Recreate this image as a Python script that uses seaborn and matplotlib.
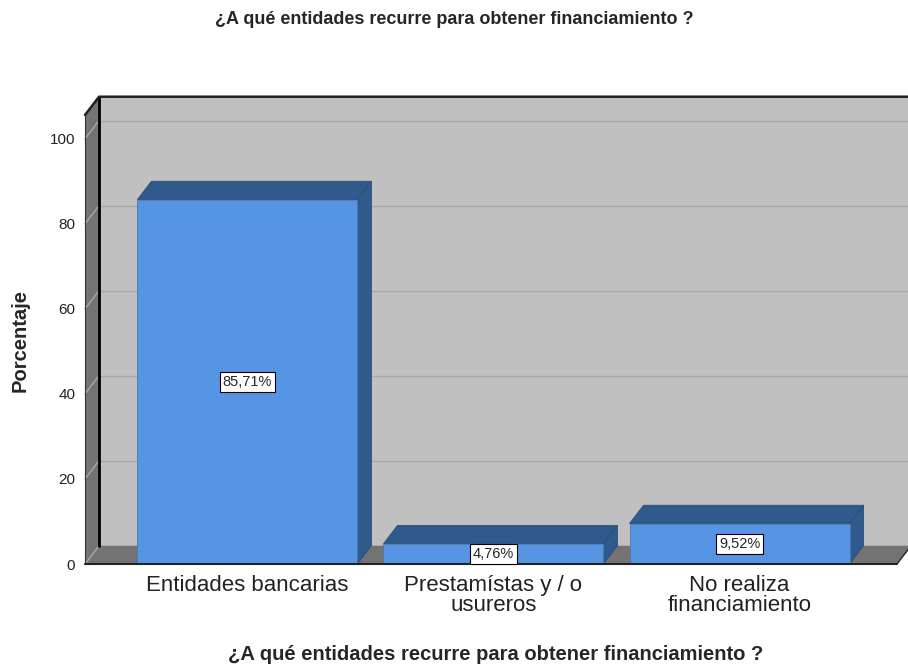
import seaborn as sns
import matplotlib.pyplot as plt
from matplotlib.patches import Polygon
import pandas as pd

categories = ['Entidades bancarias', 'Prestamístas y / o\nusureros', 'No realiza\nfinanciamiento']
values = [85.71, 4.76, 9.52]
labels = ['85,71%', '4,76%', '9,52%']
yticks = [0, 20, 40, 60, 80, 100]
title = '¿A qué entidades recurre para obtener financiamiento ?'

sns.set_style('white')
plt.rcParams['font.family'] = ['Liberation Sans', 'DejaVu Sans']

front = '#5595e4'
dark = '#315a8c'
wall = '#c0c0c0'
side = '#737373'

fig = plt.figure(figsize=(9.08, 6.66), dpi=100)
ax = fig.add_axes([85 / 908, 102 / 666, 812 / 908, 449 / 666])
ax.patch.set_visible(False)

df = pd.DataFrame({'cat': categories, 'pct': values})
sns.barplot(data=df, x='cat', y='pct', color=front, width=0.894, saturation=1,
            edgecolor='#4a78b0', linewidth=0.6, zorder=5, ax=ax)

x0, x1 = -0.66, 2.64
ytop = 105.6
ax.set_xlim(x0, x1)
ax.set_ylim(0, ytop)
# depth offset of the fake 3d box, in data units
DX, DY = 0.057, 4.3

# back wall, left wall, floor
ax.add_patch(Polygon([(x0 + DX, DY), (x1 + DX + 0.2, DY), (x1 + DX + 0.2, ytop + DY), (x0 + DX, ytop + DY)],
                     closed=True, facecolor=wall, edgecolor='none', zorder=0, clip_on=False))
for v in yticks[1:]:
    ax.plot([x0 + DX, x1 + DX + 0.2], [v + DY, v + DY], color='#a9a9a9', lw=1, zorder=1, clip_on=False)
ax.add_patch(Polygon([(x0, 0), (x0, ytop), (x0 + DX, ytop + DY), (x0 + DX, DY)],
                     closed=True, facecolor=side, edgecolor='none', zorder=2, clip_on=False))
ax.add_patch(Polygon([(x0, 0), (x1, 0), (x1 + DX, DY), (x0 + DX, DY)],
                     closed=True, facecolor=side, edgecolor='none', zorder=2, clip_on=False))
for v in yticks:
    ax.plot([x0, x0 + DX], [v, v + DY], color='#a9a9a9', lw=1, zorder=3, clip_on=False)

# edges
ax.plot([x0 + DX, x0 + DX], [DY, ytop + DY], color='black', lw=2, zorder=3, clip_on=False)
ax.plot([x0, x0 + DX, x1 + DX + 0.2], [ytop, ytop + DY, ytop + DY], color='#222222', lw=1.8, zorder=3, clip_on=False)
ax.plot([x0, x0], [0, ytop], color='#333333', lw=0.8, zorder=3, clip_on=False)
ax.plot([x0, x1], [0, 0], color='#222222', lw=1.5, zorder=7, clip_on=False)
ax.plot([x1, x1 + DX], [0, DY], color='#222222', lw=1, zorder=3, clip_on=False)

# top and side faces of the bars
for p, lab in zip(ax.patches, labels):
    bx, bw, h = p.get_x(), p.get_width(), p.get_height()
    ax.add_patch(Polygon([(bx, h), (bx + bw, h), (bx + bw + DX, h + DY), (bx + DX, h + DY)],
                         closed=True, facecolor=dark, edgecolor='#2a4d78', lw=0.6, zorder=4, clip_on=False))
    ax.add_patch(Polygon([(bx + bw, 0), (bx + bw, h), (bx + bw + DX, h + DY), (bx + bw + DX, DY)],
                         closed=True, facecolor=dark, edgecolor='#2a4d78', lw=0.6, zorder=4, clip_on=False))
    ax.text(bx + bw / 2, h / 2, lab, ha='center', va='center', fontsize=10.5, zorder=8,
            bbox=dict(boxstyle='square,pad=0.2', facecolor='white', edgecolor='black', lw=0.8))

ax.set_yticks(yticks)
ax.tick_params(axis='y', length=0, pad=7, labelsize=11, labelcolor='#222222')
ax.tick_params(axis='x', length=0, pad=8, labelsize=16, labelcolor='#222222')
for t in ax.get_xticklabels():
    t.set_linespacing(0.95)
ax.set_xlabel('')
ax.set_ylabel('')
sns.despine(ax=ax, left=True, bottom=True)

fig.text(454 / 908, 1 - 20 / 666, title, ha='center', va='center', fontsize=13, fontweight='bold')
fig.text(496 / 908, 1 - 655 / 666, title, ha='center', va='center', fontsize=14.5, fontweight='bold')
fig.text(20 / 908, 1 - 340 / 666, 'Porcentaje', ha='center', va='center', rotation=90,
         fontsize=14.5, fontweight='bold')

plt.savefig('out.png', dpi=100)
